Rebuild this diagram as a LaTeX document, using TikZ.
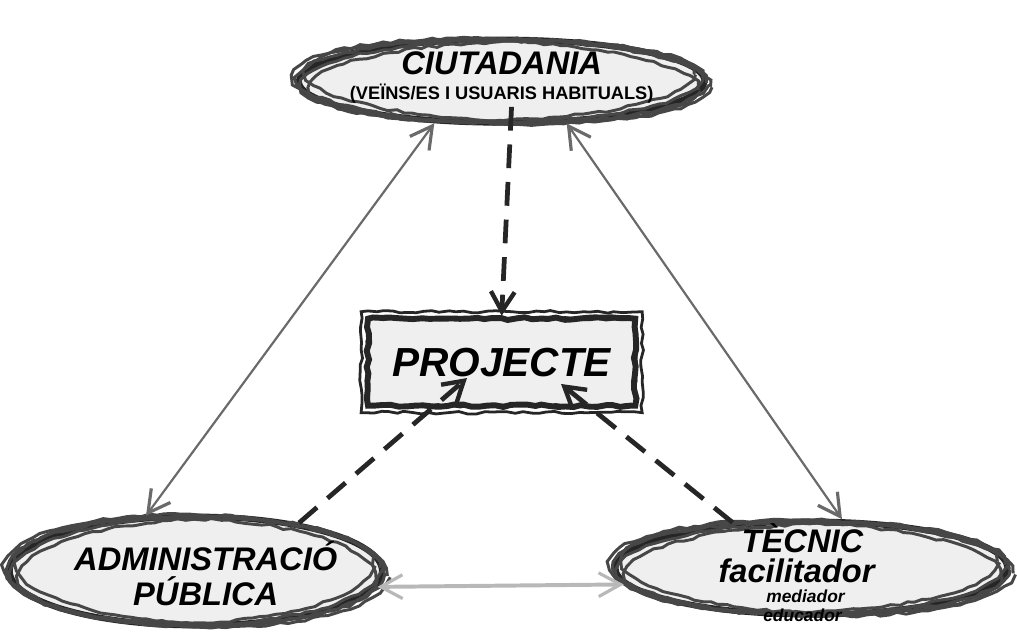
\documentclass[tikz,border=0pt]{standalone}
\usepackage{fontspec}
\setmainfont{Liberation Sans}
\usetikzlibrary{arrows.meta,calc,decorations.pathmorphing,shapes.geometric}
\definecolor{crayon}{HTML}{262626}
\definecolor{paper}{HTML}{EFEFEF}
\definecolor{pencil}{HTML}{6A6A6A}
\definecolor{chalk}{HTML}{B8B8B8}
\tikzset{
  sketch/.style={decorate,decoration={random steps,segment length=4pt,amplitude=0.7pt}},
  bubble/.style={ellipse,fill=paper,draw=crayon,line width=3pt,inner sep=0pt},
  link/.style={pencil,line width=1.1pt,
    {Straight Barb[length=11pt,width=12pt,line width=1.6pt]}-{Straight Barb[length=11pt,width=12pt,line width=1.6pt]}},
  feed/.style={crayon,line width=2.4pt,dash pattern=on 12pt off 7pt,
    -{Straight Barb[length=10pt,width=12pt,line width=2.2pt]}},
  title/.style={font=\bfseries\itshape\fontsize{16.5}{17.5}\selectfont},
  small/.style={inner sep=0.5pt,font=\bfseries\itshape\fontsize{8.8}{10}\selectfont},
}
\pgfmathsetseed{7}
\begin{document}
\begin{tikzpicture}[x=0.5pt,y=0.5pt]
  \fill[white] (0,0) rectangle (1017,648);
  \node[bubble,minimum width=205pt,minimum height=42pt] (ciut) at (505,566) {};
  \node[bubble,minimum width=188pt,minimum height=55pt] (admin) at (196,71) {};
  \node[bubble,minimum width=198pt,minimum height=47pt] (tecnic) at (818,74) {};
  \foreach \n/\a/\b in {ciut/205/42,admin/188/55,tecnic/198/47}{
    \foreach \s/\r in {0.95/2,1.03/-1.5,0.99/1,1.01/-0.5,0.97/-2.5}{
      \draw[crayon!85,line width=1.5pt,sketch,rotate around={\r:(\n.center)}]
        (\n.center) ellipse [x radius=\s*\a, y radius=\s*\b];
    }
  }
  \node[draw=crayon,fill=paper,line width=3pt,sketch,minimum width=135pt,minimum height=44pt,
    font=\bfseries\itshape\fontsize{20.5}{24}\selectfont] (proj) at (505,282) {PROJECTE};
  \foreach \d in {-4,3}{
    \draw[crayon,line width=1.4pt,sketch] ($(proj.south west)+(\d,\d)$) rectangle ($(proj.north east)+(-\d,-\d)$);
  }
  \node[title] (ciutname) at (505,584) {CIUTADANIA};
  \node[font=\bfseries\fontsize{9.2}{11}\selectfont] (ciutnote) at (505,553) {(VEÏNS/ES I USUARIS HABITUALS)};
  \node[title,align=center] (adminname) at (206,68) {ADMINISTRACIÓ\\PÚBLICA};
  \node[title] (tecnicname) at (809,104) {TÈCNIC};
  \node[title,inner sep=0.5pt] (tecnicrole) at (803,71) {facilitador};
  \node[small] (tecnicmed) at (812,45) {mediador};
  \node[small] (tecnicedu) at (809,26) {educador};
  \draw[link] (ciut.-148) -- (admin.132);
  \draw[link] (ciut.-33) -- (tecnic.58);
  \draw[link,chalk,line width=2pt] (admin.-5) -- (tecnic.185);
  \draw[feed] ($(ciut.center)+(10,-26)$) -- (proj.north);
  \draw[feed] (admin.25) -- ($(proj.center)+(-35,-16)$);
  \draw[feed] (tecnic.150) -- ($(proj.center)+(60,-22)$);
\end{tikzpicture}
\end{document}
